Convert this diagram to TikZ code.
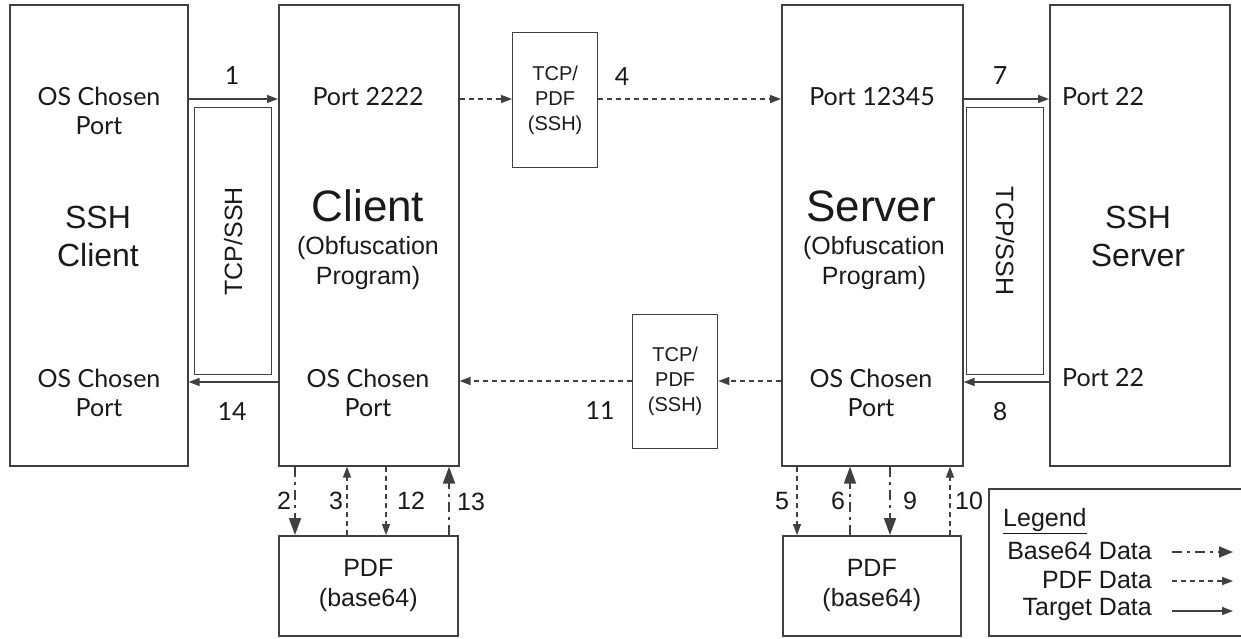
\documentclass[tikz,border=0pt]{standalone}
\usepackage{fontspec}
\setmainfont{Liberation Sans}
\newfontfamily\latofont{Lato}
\usetikzlibrary{arrows.meta}

\definecolor{edgegray}{HTML}{404040}
\definecolor{inkgray}{HTML}{1A1A1A}

% font sizes (1pt = 1 unit of the drawing grid)
\newcommand\portfont{\latofont\fontsize{25}{29.5}\selectfont}
\newcommand\bodyfont{\fontsize{25}{30}\selectfont}
\newcommand\smallfont{\fontsize{20}{25}\selectfont}
\newcommand\midfont{\fontsize{32}{38}\selectfont}
\newcommand\bigfont{\fontsize{44}{50}\selectfont}

\begin{document}
\begin{tikzpicture}[x=1pt,y=-1pt,
  box/.style={draw=edgegray,line width=1.6pt,inner sep=0pt,anchor=north west},
  txt/.style={text=inkgray,align=center,inner sep=0pt},
  target/.style={draw=edgegray,line width=1.4pt,-{Triangle[length=11pt,width=8pt]}},
  pdfdata/.style={draw=edgegray,line width=1.4pt,dash pattern=on 5pt off 4pt,-{Triangle[length=11pt,width=8pt]}},
  bsixtyfour/.style={draw=edgegray,line width=1.8pt,dash pattern=on 10pt off 5pt on 3pt off 5pt,-{Triangle[length=17pt,width=12pt]}},
]
\useasboundingbox (0,0) rectangle (1241,638);

% ---- main blocks ----
\node[box,minimum width=178pt,minimum height=461pt] (sshc) at (9,4) {};
\node[box,minimum width=180pt,minimum height=461pt] (cl)   at (278,4) {};
\node[box,minimum width=181pt,minimum height=461pt] (sv)   at (781,4) {};
\node[box,minimum width=180pt,minimum height=461pt] (sshs) at (1049,4) {};

% inner tunnel boxes
\node[box,line width=1.3pt,minimum width=77pt,minimum height=267pt] (tunl) at (194,107) {};
\node[box,line width=1.3pt,minimum width=77pt,minimum height=267pt] (tunr) at (966,107) {};
\node[txt,rotate=90,font=\bodyfont]  (tunltxt) at (tunl.center) {TCP/SSH};
\node[txt,rotate=-90,font=\bodyfont] (tunrtxt) at (tunr.center) {TCP/SSH};

% transit packets
\node[box,line width=1.3pt,minimum width=85pt,minimum height=135pt] (pkt1) at (512,32) {};
\node[txt,font=\smallfont] (pkt1txt) at (pkt1.center) {TCP/\\PDF\\(SSH)};
\node[box,line width=1.3pt,minimum width=85pt,minimum height=134pt] (pkt2) at (632,314) {};
\node[txt,font=\smallfont] (pkt2txt) at (pkt2.center) {TCP/\\PDF\\(SSH)};

% PDF stores
\node[box,minimum width=179pt,minimum height=100pt] (pdfl) at (278,535) {};
\node[txt,font=\bodyfont] (pdfltxt) at (pdfl.center) {PDF\\(base64)};
\node[box,minimum width=178pt,minimum height=100pt] (pdfr) at (782,535) {};
\node[txt,font=\bodyfont] (pdfrtxt) at (pdfr.center) {PDF\\(base64)};

% ---- block texts ----
\node[txt,font=\portfont] (sshcp1) at (99,111) {OS Chosen\\Port};
\node[txt,font=\midfont]  (sshcname) at (98,236) {SSH\\Client};
\node[txt,font=\portfont] (sshcp2) at (99,393) {OS Chosen\\Port};

\node[txt,font=\portfont] (clp1) at (368,97) {Port 2222};
\node[txt,font=\bigfont]  (clname) at (368,206) {Client};
\node[txt,font=\bodyfont] (clsub) at (368,263) {(Obfuscation\\Program)};
\node[txt,font=\portfont] (clp2) at (368,393) {OS Chosen\\Port};

\node[txt,font=\portfont] (svp1) at (872,97) {Port 12345};
\node[txt,font=\bigfont]  (svname) at (871,206) {Server};
\node[txt,font=\bodyfont] (svsub) at (874,263) {(Obfuscation\\Program)};
\node[txt,font=\portfont] (svp2) at (871,393) {OS Chosen\\Port};

\node[txt,font=\portfont,anchor=west] (sshsp1) at (1062,97) {Port 22};
\node[txt,font=\midfont]  (sshsname) at (1138,236) {SSH\\Server};
\node[txt,font=\portfont,anchor=west] (sshsp2) at (1062,378) {Port 22};

% ---- horizontal flows ----
\draw[target]  (sshc.east |- 0,99) -- (cl.west |- 0,99);
\draw[target]  (cl.west |- 0,382) -- (sshc.east |- 0,382);
\draw[target]  (sv.east |- 0,99) -- (sshs.west |- 0,99);
\draw[target]  (sshs.west |- 0,382) -- (sv.east |- 0,382);
\draw[pdfdata] (cl.east |- 0,99) -- (pkt1.west |- 0,99);
\draw[pdfdata] (pkt1.east |- 0,99) -- (sv.west |- 0,99);
\draw[pdfdata] (sv.west |- 0,381) -- (pkt2.east |- 0,381);
\draw[pdfdata] (pkt2.west |- 0,381) -- (cl.east |- 0,381);

\node[txt,font=\portfont] (n1)  at (232,76)  {1};
\node[txt,font=\portfont] (n14) at (232,412) {14};
\node[txt,font=\portfont] (n4)  at (622,77)  {4};
\node[txt,font=\portfont] (n11) at (600,411) {11};
\node[txt,font=\portfont] (n7)  at (1000,76) {7};
\node[txt,font=\portfont] (n8)  at (1000,412) {8};

% ---- vertical flows to/from the PDF stores ----
\draw[bsixtyfour] (cl.south -| 295,0) -- (pdfl.north -| 295,0);
\draw[pdfdata]    (pdfl.north -| 347,0) -- (cl.south -| 347,0);
\draw[pdfdata]    (cl.south -| 386,0) -- (pdfl.north -| 386,0);
\draw[bsixtyfour] (pdfl.north -| 449,0) -- (cl.south -| 449,0);

\draw[pdfdata]    (sv.south -| 797,0) -- (pdfr.north -| 797,0);
\draw[bsixtyfour] (pdfr.north -| 850,0) -- (sv.south -| 850,0);
\draw[bsixtyfour] (sv.south -| 890,0) -- (pdfr.north -| 890,0);
\draw[pdfdata]    (pdfr.north -| 950,0) -- (sv.south -| 950,0);

\node[txt,font=\bodyfont] (n2)  at (284,501) {2};
\node[txt,font=\bodyfont] (n3)  at (336,501) {3};
\node[txt,font=\bodyfont] (n12) at (411,501) {12};
\node[txt,font=\bodyfont] (n13) at (471,502) {13};
\node[txt,font=\bodyfont] (n5)  at (782,501) {5};
\node[txt,font=\bodyfont] (n6)  at (838,501) {6};
\node[txt,font=\bodyfont] (n9)  at (910,501) {9};
\node[txt,font=\bodyfont] (n10) at (969,501) {10};

% ---- legend (frame runs off the right edge) ----
\coordinate (legtr) at (1260,489);
\coordinate (legtl) at (989,489);
\coordinate (legbl) at (989,636);
\coordinate (legbr) at (1260,636);
\draw[edgegray,line width=1.6pt] (legtr) -- (legtl) -- (legbl) -- (legbr);
\node[txt,font=\bodyfont,anchor=west] (legtitle) at (1003,521) {\underline{Legend}};
\node[txt,font=\bodyfont,anchor=east] (legb) at (1152,551) {Base64 Data};
\node[txt,font=\bodyfont,anchor=east] (legp) at (1152,580) {PDF Data};
\node[txt,font=\bodyfont,anchor=east] (legt) at (1152,609) {Target Data};
\coordinate (lbs) at (1172,552); \coordinate (lbe) at (1233,552);
\coordinate (lps) at (1172,581); \coordinate (lpe) at (1233,581);
\coordinate (lts) at (1172,611); \coordinate (lte) at (1233,611);
\draw[bsixtyfour,-{Triangle[length=14pt,width=11pt]}] (lbs) -- (lbe);
\draw[pdfdata] (lps) -- (lpe);
\draw[target]  (lts) -- (lte);
\end{tikzpicture}
\end{document}
